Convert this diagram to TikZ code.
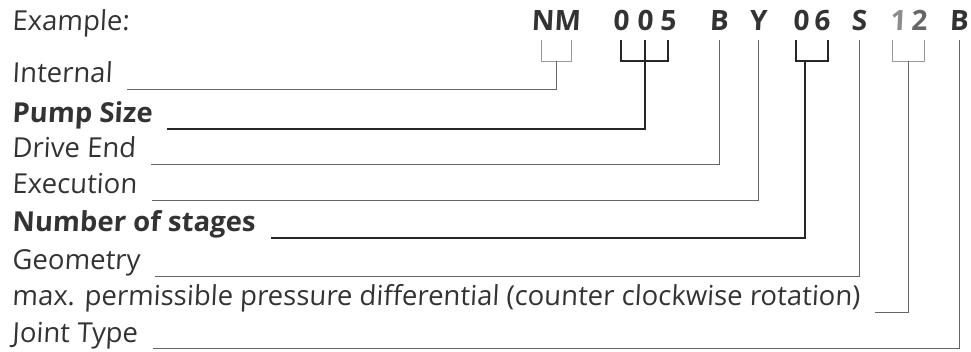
\documentclass[tikz,border=0pt]{standalone}
\usepackage{fontspec}
\setmainfont{Open Sans}[FakeSlant=0.05]

\begin{document}
\begin{tikzpicture}[
  x=1pt,y=-1pt,
  lbl/.style={anchor=base west,inner sep=0pt,text=black!80,font=\fontsize{27.5}{27.5}\selectfont},
  keylbl/.style={lbl,font=\fontsize{27.5}{27.5}\selectfont\bfseries},
  code/.style={anchor=base,inner sep=0pt,text=black!80,font=\fontsize{28}{28}\selectfont\bfseries},
  leader/.style={draw=black!60,line width=0.9pt},
  heavyleader/.style={draw=black!85,line width=1.9pt},
  faint/.style={draw=black!40,line width=0.8pt}
]
  \useasboundingbox (0,0) rectangle (971,352);

  \node[lbl] (example) at (12,31) {Example:};

  \node[code] (nm) at (556,31) {NM};
  \node[code] (c0a) at (621,31) {0};
  \node[code] (c0b) at (645,31) {0};
  \node[code] (c5) at (668,31) {5};
  \node[code] (cb) at (719,31) {B};
  \node[code] (cy) at (758,31) {Y};
  \node[code] (c0c) at (801,31) {0};
  \node[code] (c6) at (822,31) {6};
  \node[code] (cs) at (859,31) {S};
  \node[code,text=black!45] (c1) at (898,31) {1};
  \node[code,text=black!60] (c2) at (919,31) {2};
  \node[code] (cj) at (959,31) {B};

  \node[lbl] (int) at (12,83) {Internal};
  \node[keylbl] (size) at (12,123) {Pump Size};
  \node[lbl] (drive) at (12,158) {Drive End};
  \node[lbl] (exec) at (12,194) {Execution};
  \node[keylbl] (stages) at (12,232) {Number of stages};
  \node[lbl] (geom) at (12,270) {Geometry};
  \node[lbl] (pdiff) at (12,306) {max. permissible pressure differential (counter clockwise rotation)};
  \node[lbl] (joint) at (12,342) {Joint Type};

  % brackets under the code
  \draw[faint] ([shift={(-15,9)}]nm.base) |- ([shift={(15,30)}]nm.base) -- ([shift={(15,9)}]nm.base);
  \draw[heavyleader] ([shift={(0,9)}]c0a.base) |- ([shift={(0,30)}]c5.base) -- ([shift={(0,9)}]c5.base);
  \draw[heavyleader] ([shift={(0,9)}]c0b.base) -- ([shift={(0,30)}]c0b.base);
  \draw[heavyleader] ([shift={(-5,9)}]c0c.base) |- ([shift={(6,30)}]c6.base) -- ([shift={(6,9)}]c6.base);
  \draw[faint] ([shift={(-6,9)}]c1.base) |- ([shift={(5,30)}]c2.base) -- ([shift={(5,9)}]c2.base);

  % leaders from the labels
  \draw[leader] ([shift={(15,6)}]int.base east) -| ([shift={(0,30)}]nm.base);
  \draw[heavyleader] ([shift={(15,6)}]size.base east) -| ([shift={(0,30)}]c0b.base);
  \draw[leader] ([shift={(15,6)}]drive.base east) -| ([shift={(0,9)}]cb.base);
  \draw[leader] ([shift={(15,6)}]exec.base east) -| ([shift={(0,9)}]cy.base);
  \draw[heavyleader] ([shift={(15,6)}]stages.base east) -| ([shift={(-5,30)}]c0c.base -| 810,0);
  \draw[leader] ([shift={(15,6)}]geom.base east) -| ([shift={(0,9)}]cs.base);
  \draw[leader] ([shift={(15,6)}]pdiff.base east) -| ([shift={(0,30)}]c1.base -| 908,0);
  \draw[leader] ([shift={(15,6)}]joint.base east) -| ([shift={(0,9)}]cj.base);
\end{tikzpicture}
\end{document}
